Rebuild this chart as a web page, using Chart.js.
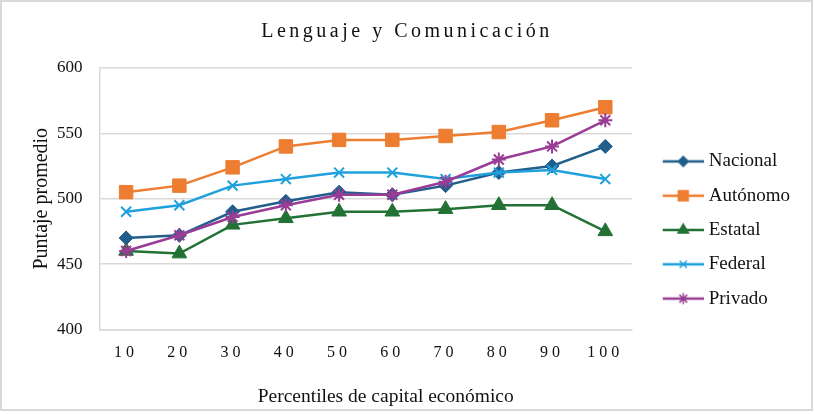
<!DOCTYPE html>
<html lang="es">
<head>
<meta charset="UTF-8">
<title>Lenguaje y Comunicación</title>
<script src="https://cdn.jsdelivr.net/npm/chart.js"></script>
<style>
    html, body { margin: 0; padding: 0; background: #fff; }
    .marco { position: relative; width: 814px; height: 414px; }
    .borde { position: absolute; left: 0; top: 0; width: 813px; height: 411px; border: 2px solid #d9d9d9; box-sizing: border-box; pointer-events: none; }
</style>
</head>
<body>

<div class="marco">
    <canvas id="grafica" width="814" height="414"></canvas>
    <div class="borde"></div>
</div>

<script>
    // Datos
    const percentiles = ['10', '20', '30', '40', '50', '60', '70', '80', '90', '100'];
    const nacional  = [470, 472, 490, 498, 505, 503, 510, 520, 525, 540];
    const autonomo  = [505, 510, 524, 540, 545, 545, 548, 551, 560, 570];
    const estatal   = [460, 458, 480, 485, 490, 490, 492, 495, 495, 475];
    const federal   = [490, 495, 510, 515, 520, 520, 515, 520, 522, 515];
    const privado   = [460, 472, 486, 495, 503, 503, 513, 530, 540, 560];
    const yTicks    = [400, 450, 500, 550, 600];

    const fuente = "'Liberation Serif', 'Times New Roman', serif";
    Chart.defaults.font.family = fuente;
    Chart.defaults.color = '#111';

    // Muestra de leyenda: línea con marcador (como en Excel)
    function muestraLeyenda(color, estilo, radio) {
        const c = document.createElement('canvas');
        c.width = 61;
        c.height = 16;
        const g = c.getContext('2d');
        g.strokeStyle = color;
        g.fillStyle = color;
        g.lineWidth = 2.5;
        g.beginPath();
        g.moveTo(20, 8);
        g.lineTo(61, 8);
        g.stroke();
        g.lineWidth = 1.5;
        Chart.helpers.drawPoint(g, { pointStyle: estilo, radius: radio, borderWidth: 1.5, rotation: 0 }, 40.5, 8);
        return c;
    }

    const series = [
        { nombre: 'Nacional', datos: nacional, color: '#225e8c', estilo: 'rectRot', radio: 7,   radioLeyenda: 5 },
        { nombre: 'Autónomo', datos: autonomo, color: '#ed7d31', estilo: 'rect',    radio: 9.5, radioLeyenda: 7 },
        { nombre: 'Estatal',  datos: estatal,  color: '#217234', estilo: 'triangle', radio: 8.5, radioLeyenda: 6 },
        { nombre: 'Federal',  datos: federal,  color: '#1ea1dc', estilo: 'crossRot', radio: 7,   radioLeyenda: 5 },
        { nombre: 'Privado',  datos: privado,  color: '#993c95', estilo: 'star',    radio: 7,   radioLeyenda: 5.5 }
    ];

    const imagenes = series.map(s => muestraLeyenda(s.color, s.estilo, s.radioLeyenda));

    // Ajustes de dibujo: espaciado de letras y desplazamiento
    function envolver(obj, metodo, ajuste) {
        if (!obj || obj['_esp_' + metodo]) return;
        const original = obj[metodo];
        obj[metodo] = function (...args) {
            const ctx = this.ctx;
            ctx.save();
            ajuste(ctx);
            original.apply(this, args);
            ctx.restore();
        };
        obj['_esp_' + metodo] = true;
    }

    const espaciado = {
        id: 'espaciado',
        beforeDraw(chart) {
            envolver(chart.titleBlock, 'draw', c => { c.letterSpacing = '3.5px'; });
            envolver(chart.scales.x, 'drawLabels', c => { c.letterSpacing = '4px'; });
            // Excel desplaza el título del eje X un poco a la derecha
            envolver(chart.scales.x, 'drawTitle', c => { c.translate(20, 0); });
        }
    };

    const ctx = document.getElementById('grafica').getContext('2d');

    const grafica = new Chart(ctx, {
        type: 'line',
        data: {
            labels: percentiles,
            datasets: series.map((s, i) => ({
                label: s.nombre,
                data: s.datos,
                borderColor: s.color,
                backgroundColor: s.color,
                pointBackgroundColor: s.color,
                pointBorderColor: s.color,
                pointBorderWidth: (s.estilo === 'crossRot' || s.estilo === 'star') ? 2 : 1,
                pointStyle: s.estilo,
                pointRadius: s.radio,
                pointHoverRadius: s.radio,
                borderWidth: 2.5,
                tension: 0,
                order: series.length - i
            }))
        },
        options: {
            responsive: false,
            animation: false,
            layout: {
                padding: { left: 14, right: 14, top: 0, bottom: 5 }
            },
            plugins: {
                title: {
                    display: true,
                    text: 'Lenguaje y Comunicación',
                    font: { size: 20, weight: 'normal' },
                    color: '#111',
                    padding: { top: 20, bottom: 24 }
                },
                legend: {
                    position: 'right',
                    align: 'center',
                    title: {
                        display: true,
                        text: ' ',
                        font: { size: 10 },
                        padding: { top: 39, bottom: 0 }
                    },
                    labels: {
                        usePointStyle: true,
                        pointStyleWidth: 52,
                        boxHeight: 16,
                        padding: 15.3,
                        color: '#111',
                        font: { size: 19 },
                        sort: (a, b) => a.datasetIndex - b.datasetIndex,
                        generateLabels(chart) {
                            const items = Chart.defaults.plugins.legend.labels.generateLabels(chart);
                            items.forEach(it => { it.pointStyle = imagenes[it.datasetIndex]; });
                            return items;
                        }
                    }
                },
                tooltip: { enabled: false }
            },
            scales: {
                x: {
                    offset: true,
                    grid: {
                        display: true,
                        offset: true,
                        drawTicks: false,
                        lineWidth: 1.5,
                        // solo el borde derecho del área de trazado
                        color: (c) => c.index === percentiles.length ? '#d9d9d9' : 'rgba(0,0,0,0)'
                    },
                    border: { display: true, color: '#d9d9d9', width: 1.5 },
                    ticks: { padding: 14, font: { size: 16 }, color: '#111' },
                    title: {
                        display: true,
                        text: 'Percentiles de capital económico',
                        font: { size: 19.5 },
                        color: '#111',
                        padding: { top: 9, bottom: 0 }
                    }
                },
                y: {
                    min: yTicks[0],
                    max: yTicks[yTicks.length - 1],
                    afterBuildTicks(scale) {
                        scale.ticks = yTicks.map(v => ({ value: v }));
                    },
                    grid: { color: '#d9d9d9', lineWidth: 1.5, drawTicks: false },
                    border: { display: true, color: '#d9d9d9', width: 1.5 },
                    ticks: { padding: 17, font: { size: 17 }, color: '#111' },
                    title: {
                        display: true,
                        text: 'Puntaje promedio',
                        font: { size: 20 },
                        color: '#111',
                        padding: { top: 16, bottom: -14 }
                    }
                }
            }
        },
        plugins: [espaciado]
    });
</script>

</body>
</html>
